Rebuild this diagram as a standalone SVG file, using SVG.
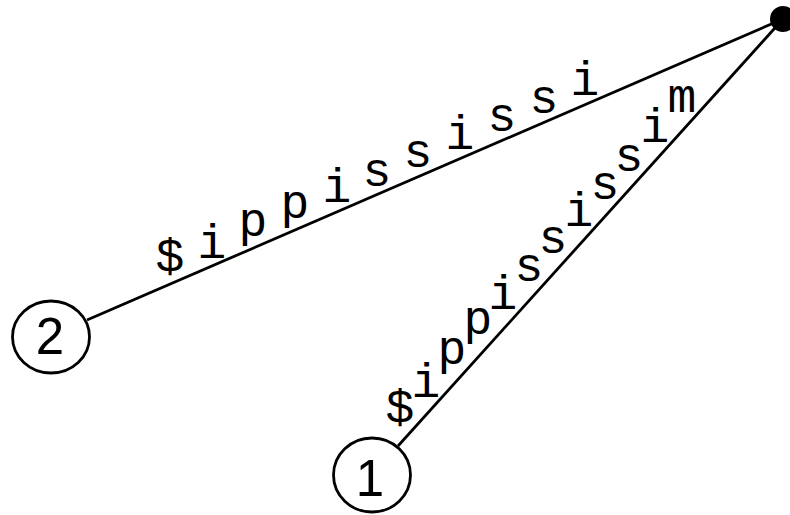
<svg xmlns="http://www.w3.org/2000/svg" width="790" height="515" viewBox="0 0 790 515">
<style>
.edge{stroke:#000;stroke-width:2.8;fill:none}
.node{fill:#fff;stroke:#000;stroke-width:2.8}
.num{font-family:"Liberation Sans",Arial,sans-serif;font-size:51px;fill:#000;text-anchor:middle}
.lbl{font-family:"Liberation Mono","Courier New",monospace;font-size:48px;fill:#000;text-anchor:middle}
</style>
<rect width="790" height="515" fill="#fff"/>
<g id="connectors">
<line class="edge" x1="87" y1="320" x2="783" y2="19"/>
<line class="edge" x1="398" y1="446" x2="783" y2="19"/>
</g>
<g id="edge-labels">
<g id="label-2">
<text class="lbl" x="170" y="272">$</text>
<text class="lbl" x="212" y="258">i</text>
<text class="lbl" x="253" y="236">p</text>
<text class="lbl" x="295" y="218">p</text>
<text class="lbl" x="337" y="202">i</text>
<text class="lbl" x="377" y="186">s</text>
<text class="lbl" x="418" y="167">s</text>
<text class="lbl" x="460" y="149">i</text>
<text class="lbl" x="502" y="131">s</text>
<text class="lbl" x="544" y="113">s</text>
<text class="lbl" x="585" y="95">i</text>
</g>
<g id="label-1">
<text class="lbl" x="400" y="423">$</text>
<text class="lbl" x="426" y="397">i</text>
<text class="lbl" x="452" y="364">p</text>
<text class="lbl" x="478" y="334">p</text>
<text class="lbl" x="503" y="309">i</text>
<text class="lbl" x="529" y="281">s</text>
<text class="lbl" x="553" y="253">s</text>
<text class="lbl" x="579" y="226">i</text>
<text class="lbl" x="605" y="199">s</text>
<text class="lbl" x="629" y="171">s</text>
<text class="lbl" x="655" y="142">i</text>
<text class="lbl" x="682" y="112">m</text>
</g>
</g>
<g id="root">
<circle cx="783" cy="19" r="13" fill="#000"/>
</g>
<g id="node-2">
<ellipse class="node" cx="51" cy="337" rx="38.5" ry="36"/>
<text class="num" x="50" y="354">2</text>
</g>
<g id="node-1">
<ellipse class="node" cx="372" cy="475" rx="38.5" ry="37"/>
<text class="num" x="370" y="496">1</text>
</g>
</svg>
